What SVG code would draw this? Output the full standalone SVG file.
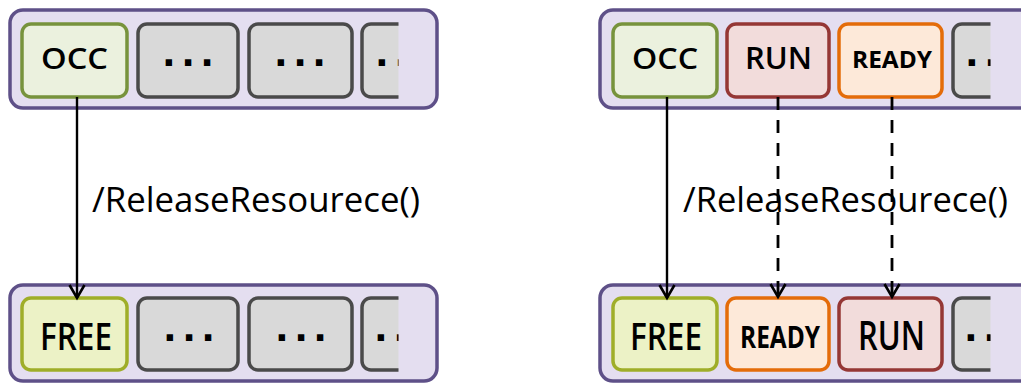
<svg xmlns="http://www.w3.org/2000/svg" width="1021" height="383" viewBox="0 0 1021 383">
<style>
.cont{fill:#e4def0;stroke:#5e5088;stroke-width:3.5}
.box{stroke-width:3.5}
.gray{fill:#d9d9d9;stroke:#4a4a4a}
.occ{fill:#ebf1de;stroke:#77933c}
.free{fill:#ecf2c6;stroke:#9fae29}
.run{fill:#f2dcdb;stroke:#953735}
.ready{fill:#fde9d9;stroke:#e46c0a}
.lbl{font-family:"Open Sans","Liberation Sans",sans-serif;fill:#000}
.bl{font-weight:600}
.dots{font-family:"DejaVu Sans",sans-serif;font-weight:bold;font-size:36px;fill:#000}
.solid{stroke:#000;stroke-width:2.4;fill:none}
.dash{stroke:#000;stroke-width:2.8;fill:none;stroke-dasharray:13 10}
</style>
<defs>
<marker id="ah" markerUnits="userSpaceOnUse" markerWidth="22" markerHeight="22" viewBox="-17 -11 22 22" refX="0" refY="0" orient="auto">
<path d="M-13,-7.5 L0,0 L-13,7.5" fill="none" stroke="#000" stroke-width="2.6"/>
</marker>
<clipPath id="cL"><rect x="355" y="0" width="43.5" height="383"/></clipPath>
<clipPath id="cR"><rect x="946" y="0" width="44.5" height="383"/></clipPath>
</defs>

<!-- Left top -->
<g id="left-top">
<rect class="cont" x="10" y="10" width="427" height="98" rx="13"/>
<g id="lt-occ"><rect class="box occ" x="22" y="24" width="105" height="73" rx="9"/>
<text class="lbl bl" x="41" y="69" font-size="29" textLength="67" lengthAdjust="spacingAndGlyphs">OCC</text></g>
<g id="lt-g1"><rect class="box gray" x="138" y="24" width="100" height="73" rx="9"/>
<text class="dots" x="162" y="66" textLength="52" lengthAdjust="spacing">...</text></g>
<g id="lt-g2"><rect class="box gray" x="249" y="24" width="103" height="73" rx="9"/>
<text class="dots" x="274" y="66" textLength="52" lengthAdjust="spacing">...</text></g>
<g id="lt-g3" clip-path="url(#cL)"><rect class="box gray" x="362" y="24" width="100" height="73" rx="9"/>
<text class="dots" x="375" y="66" textLength="52" lengthAdjust="spacing">...</text></g>
</g>

<!-- Left bottom -->
<g id="left-bottom">
<rect class="cont" x="10" y="285" width="427" height="96" rx="13"/>
<g id="lb-free"><rect class="box free" x="22" y="298" width="105" height="72" rx="9"/>
<text class="lbl bl" x="40" y="350" font-size="37" textLength="72" lengthAdjust="spacingAndGlyphs">FREE</text></g>
<g id="lb-g1"><rect class="box gray" x="138" y="298" width="100" height="72" rx="9"/>
<text class="dots" x="163" y="341" textLength="52" lengthAdjust="spacing">...</text></g>
<g id="lb-g2"><rect class="box gray" x="249" y="298" width="103" height="72" rx="9"/>
<text class="dots" x="275" y="341" textLength="52" lengthAdjust="spacing">...</text></g>
<g id="lb-g3" clip-path="url(#cL)"><rect class="box gray" x="362" y="298" width="100" height="72" rx="9"/>
<text class="dots" x="374" y="341" textLength="52" lengthAdjust="spacing">...</text></g>
</g>

<!-- Right top -->
<g id="right-top">
<rect class="cont" x="600" y="10" width="440" height="98" rx="13"/>
<g id="rt-occ"><rect class="box occ" x="613" y="24" width="104" height="73" rx="9"/>
<text class="lbl bl" x="632" y="69" font-size="29" textLength="66" lengthAdjust="spacingAndGlyphs">OCC</text></g>
<g id="rt-run"><rect class="box run" x="727" y="24" width="102" height="73" rx="9"/>
<text class="lbl bl" x="745" y="69" font-size="31" textLength="67" lengthAdjust="spacingAndGlyphs">RUN</text></g>
<g id="rt-ready"><rect class="box ready" x="839" y="24" width="103" height="73" rx="9"/>
<text class="lbl" x="852" y="68" font-size="24" font-weight="bold" textLength="80" lengthAdjust="spacingAndGlyphs">READY</text></g>
<g id="rt-g" clip-path="url(#cR)"><rect class="box gray" x="953" y="24" width="100" height="73" rx="9"/>
<text class="dots" x="965" y="66" textLength="52" lengthAdjust="spacing">...</text></g>
</g>

<!-- Right bottom -->
<g id="right-bottom">
<rect class="cont" x="600" y="285" width="440" height="96" rx="13"/>
<g id="rb-free"><rect class="box free" x="613" y="298" width="104" height="72" rx="9"/>
<text class="lbl bl" x="630" y="350" font-size="37" textLength="72" lengthAdjust="spacingAndGlyphs">FREE</text></g>
<g id="rb-ready"><rect class="box ready" x="727" y="298" width="102" height="72" rx="9"/>
<text class="lbl" x="740" y="348" font-size="31" font-weight="bold" textLength="80" lengthAdjust="spacingAndGlyphs">READY</text></g>
<g id="rb-run"><rect class="box run" x="839" y="298" width="103" height="72" rx="9"/>
<text class="lbl bl" x="858" y="350" font-size="40" textLength="67" lengthAdjust="spacingAndGlyphs">RUN</text></g>
<g id="rb-g" clip-path="url(#cR)"><rect class="box gray" x="953" y="298" width="100" height="72" rx="9"/>
<text class="dots" x="964" y="341" textLength="52" lengthAdjust="spacing">...</text></g>
</g>

<!-- Labels -->
<g id="labels">
<text class="lbl" x="92" y="212" font-size="34" font-weight="500" textLength="328" lengthAdjust="spacingAndGlyphs">/ReleaseResourece()</text>
<text class="lbl" x="683" y="212" font-size="34" font-weight="500" textLength="325" lengthAdjust="spacingAndGlyphs">/ReleaseResourece()</text>
</g>

<!-- Connectors -->
<g id="connectors">
<line class="solid" x1="77" y1="97" x2="77" y2="298" marker-end="url(#ah)"/>
<line class="solid" x1="667" y1="97" x2="667" y2="298" marker-end="url(#ah)"/>
<line class="dash" x1="778" y1="97" x2="778" y2="297" marker-end="url(#ah)"/>
<line class="dash" x1="892" y1="97" x2="892" y2="297" marker-end="url(#ah)"/>
</g>
</svg>
